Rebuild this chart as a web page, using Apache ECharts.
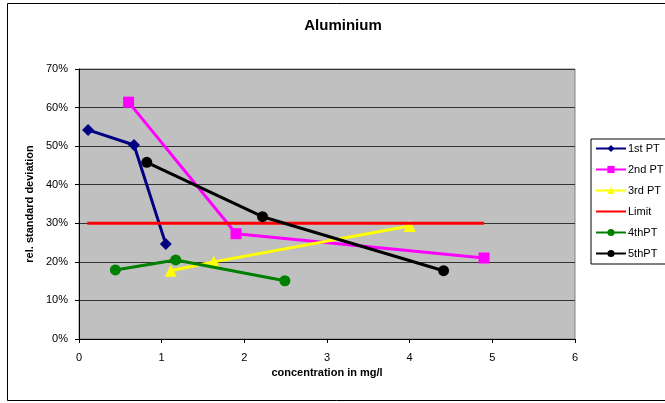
<!DOCTYPE html>
<html>
<head>
<meta charset="utf-8">
<script src="https://cdn.jsdelivr.net/npm/echarts@6/dist/echarts.min.js"></script>
<style>html,body{margin:0;padding:0;background:#fff}#c{width:665px;height:403px}</style>
</head>
<body>
<div id="c"></div>
<script>
const seriesNames = ['1st PT', '2nd PT', '3rd PT', 'Limit', '4thPT', '5thPT'];
const pt1 = [[0.11, 0.542], [0.665, 0.503], [1.05, 0.246]];
const pt2 = [[0.60, 0.614], [1.90, 0.273], [4.90, 0.210]];
const pt3 = [[1.11, 0.177], [1.63, 0.200], [4.00, 0.293]];
const limit = [[0.10, 0.30], [4.90, 0.30]];
const pt4 = [[0.44, 0.179], [1.17, 0.205], [2.49, 0.151]];
const pt5 = [[0.82, 0.458], [2.22, 0.317], [4.41, 0.177]];
const xTicks = [0, 1, 2, 3, 4, 5, 6];
const yTicks = [0, 0.1, 0.2, 0.3, 0.4, 0.5, 0.6, 0.7];

const colors = ['#000080', '#FF00FF', '#FFFF00', '#FF0000', '#008000', '#000000'];
const symbols = ['diamond', 'rect', 'triangle', 'none', 'circle', 'circle'];
const sizes = [12, 11, 12, 0, 11, 11];
const datas = [pt1, pt2, pt3, limit, pt4, pt5];

const chart = echarts.init(document.getElementById('c'), null, {renderer: 'canvas'});
const font = 'Arial, "Liberation Sans", sans-serif';
chart.setOption({
  animation: false,
  title: {
    text: 'Aluminium', left: 338, top: 13, textAlign: 'center',
    textStyle: {fontFamily: font, fontSize: 15, fontWeight: 'bold', color: '#000'}
  },
  graphic: [{
    type: 'rect', shape: {x: 7.5, y: 3.5, width: 690, height: 397},
    style: {fill: 'none', stroke: '#000', lineWidth: 1}, z: -10, silent: true
  }],
  legend: {
    orient: 'vertical', left: 591, top: 139,
    data: seriesNames.map(n => n === 'Limit'
      ? {name: n, itemStyle: {color: 'rgba(0,0,0,0)', borderWidth: 0}}
      : {name: n}),
    itemWidth: 30, itemHeight: 9, itemGap: 10,
    padding: [4, 40, 5, 4],
    borderColor: '#000', borderWidth: 1, backgroundColor: '#fff',
    textStyle: {fontFamily: font, fontSize: 11, color: '#000', padding: [0, 0, 0, -3]}
  },
  grid: {
    left: 79, right: 90, top: 69, bottom: 64,
    show: true, backgroundColor: '#C0C0C0', borderColor: '#808080', borderWidth: 1
  },
  xAxis: {
    type: 'value', min: 0, max: 6, interval: 1,
    name: 'concentration in mg/l', nameLocation: 'middle', nameGap: 25,
    nameTextStyle: {fontFamily: font, fontSize: 11, fontWeight: 'bold', color: '#000'},
    axisLine: {show: true, lineStyle: {color: '#000', width: 1}},
    axisTick: {show: true, inside: false, length: 4, lineStyle: {color: '#000'}},
    axisLabel: {fontFamily: font, fontSize: 11, color: '#000', margin: 13,
      formatter: v => xTicks.includes(v) ? String(v) : ''},
    splitLine: {show: false}
  },
  yAxis: {
    type: 'value', min: 0, max: 0.7, interval: 0.1,
    name: 'rel. standard deviation', nameLocation: 'middle', nameGap: 42,
    nameTextStyle: {fontFamily: font, fontSize: 11, fontWeight: 'bold', color: '#000'},
    axisLine: {show: true, lineStyle: {color: '#000', width: 1}},
    axisTick: {show: true, inside: false, length: 4, lineStyle: {color: '#000'}},
    axisLabel: {fontFamily: font, fontSize: 11, color: '#000', margin: 11,
      formatter: v => Math.round(v * 100) + '%'},
    splitLine: {show: true, lineStyle: {color: '#333', width: 1}}
  },
  series: seriesNames.map((n, i) => ({
    name: n, type: 'line', data: datas[i],
    symbol: symbols[i], symbolSize: sizes[i], showSymbol: symbols[i] !== 'none',
    lineStyle: {color: colors[i], width: 3},
    itemStyle: {color: colors[i]},
    z: 2 + i
  }))
});
</script>
</body>
</html>
